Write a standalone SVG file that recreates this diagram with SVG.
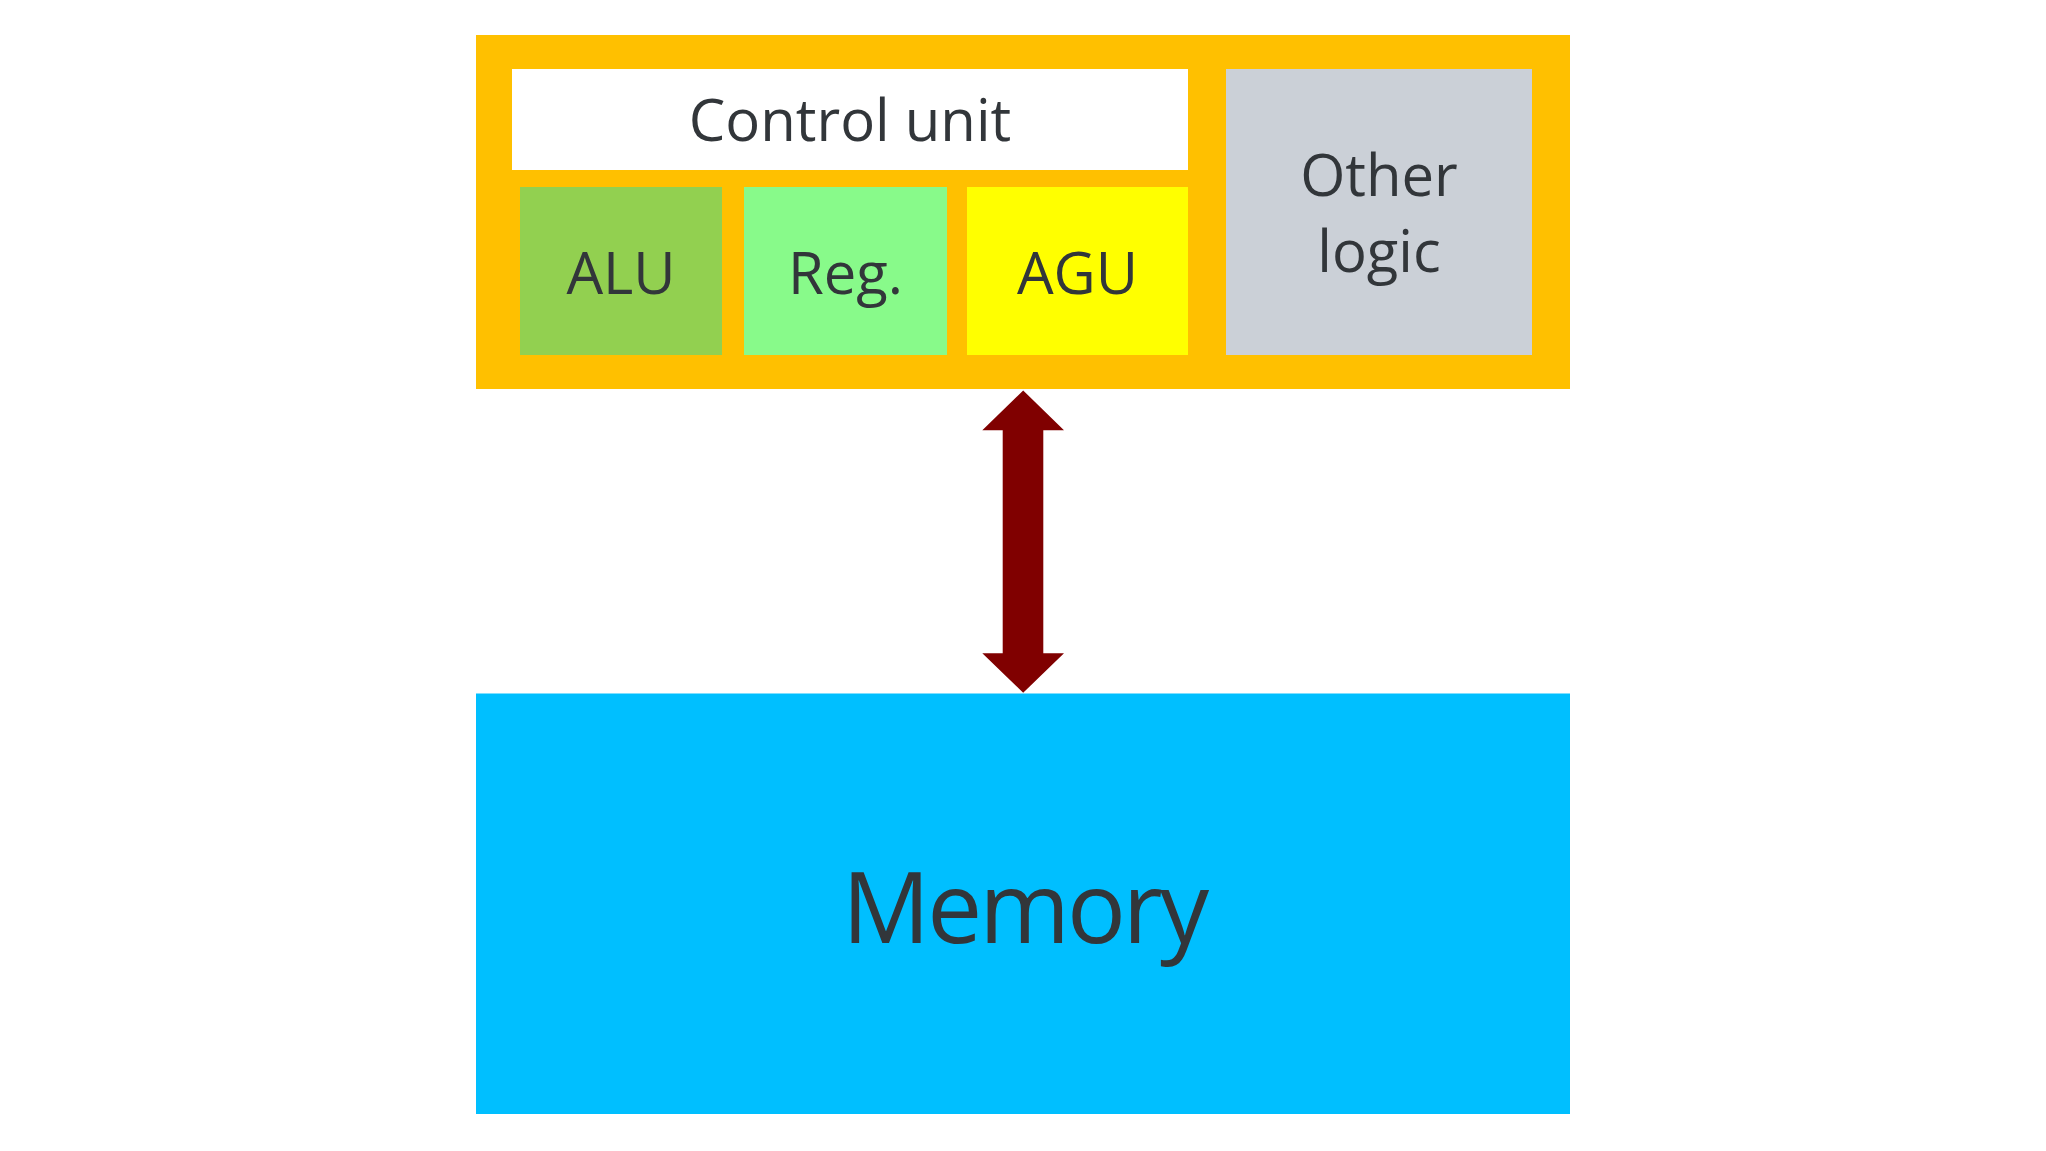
<svg xmlns="http://www.w3.org/2000/svg" width="2046" height="1151" viewBox="0 0 2046 1151">
<style>
text{font-family:"Open Sans","Noto Sans","DejaVu Sans",sans-serif;fill:#32363a;text-anchor:middle}
.t58{font-size:58px}
.t98{font-size:98px;letter-spacing:-3px}
</style>
<rect width="2046" height="1151" fill="#ffffff"/>
<g id="cpu">
<rect x="476" y="35" width="1094" height="354" fill="#FFC000"/>
</g>
<g id="control-unit">
<rect x="512" y="69" width="676" height="101" fill="#ffffff"/>
<text class="t58" x="850" y="141">Control unit</text>
</g>
<g id="alu">
<rect x="520" y="187" width="202" height="168" fill="#92D050"/>
<text class="t58" x="621" y="294">ALU</text>
</g>
<g id="reg">
<rect x="744" y="187" width="203" height="168" fill="#88FA8A"/>
<text class="t58" x="845.5" y="294">Reg.</text>
</g>
<g id="agu">
<rect x="967" y="187" width="221" height="168" fill="#FFFF00"/>
<text class="t58" x="1077.5" y="294">AGU</text>
</g>
<g id="other-logic">
<rect x="1226" y="69" width="306" height="286" fill="#CBD0D7"/>
<text class="t58" x="1379" y="196">Other</text>
<text class="t58" x="1379" y="272">logic</text>
</g>
<g id="memory">
<rect x="476" y="693.5" width="1094" height="420.5" fill="#00BFFF"/>
<text class="t98" x="1024" y="943">Memory</text>
</g>
<g id="connectors">
<path d="M1023.2,390.5 L1064,430.3 L1043.3,430.3 L1043.3,653.3 L1064,653.3 L1023.2,692.7 L982.3,653.3 L1002.7,653.3 L1002.7,430.3 L982.3,430.3 Z" fill="#800000"/>
</g>
</svg>
